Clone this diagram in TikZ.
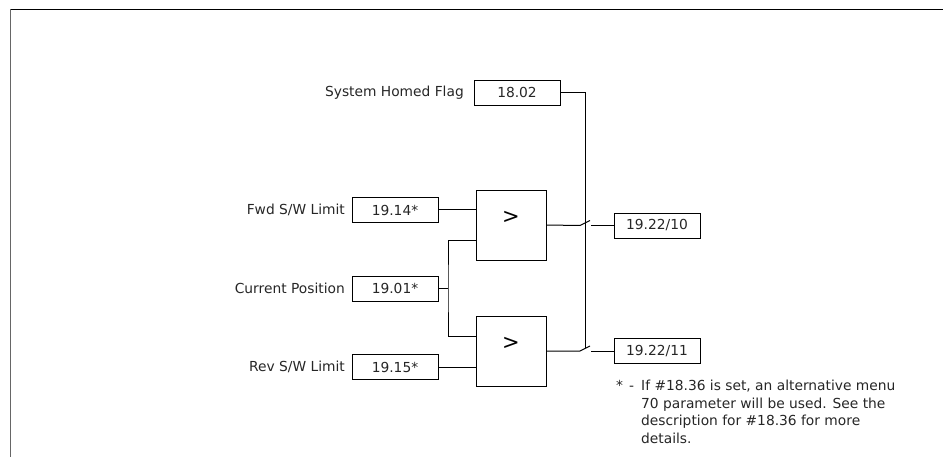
\documentclass[tikz,border=0pt]{standalone}
\usepackage{fontspec}
\setmainfont{DejaVu Sans}
\usepackage{xcolor}
\usetikzlibrary{positioning,calc}

\begin{document}
\begin{tikzpicture}[
  x=1pt, y=-1pt,
  txt/.style={font=\fontsize{13.8}{17.5}\selectfont, text=black!85},
  box/.style={draw, txt, minimum width=86pt, minimum height=25pt, inner sep=0pt},
  lbl/.style={txt, anchor=east, inner sep=0pt},
  gate/.style={draw, minimum width=70pt, minimum height=70pt, inner sep=0pt,
    font=\fontsize{21}{21}\selectfont, text depth=16pt},
  wire/.style={line width=1pt},
  note/.style={txt, align=left, anchor=north west, inner sep=0pt}
]
\useasboundingbox (0,0) rectangle (943,457);
% frame
\draw[line width=1.5pt] (943,9.5) -- (10.5,9.5);
\draw[line width=1.8pt, black!60] (10.5,9.5) -- (10.5,457);

% homed flag
\node[box] (flag) at (517,92.5) {18.02};
\node[lbl] (flagtxt) at (464,92.5) {System Homed Flag};

% inputs
\foreach \n/\y/\v/\t in {fwd/210/19.14*/{Fwd S/W Limit}, pos/288.5/19.01*/{Current Position}, rev/367/19.15*/{Rev S/W Limit}} {
  \node[box] (\n) at (395,\y) {\v};
  \node[lbl] (\n txt) at (345,\y) {\t};
}

% comparators
\node[gate] (cmpf) at (511,225) {>};
\node[gate] (cmpr) at (511,351) {>};
\coordinate (inf1) at ([yshift=15pt]cmpf.west);
\coordinate (inf2) at ([yshift=-16pt]cmpf.west);
\coordinate (inr1) at ([yshift=15pt]cmpr.west);
\coordinate (inr2) at ([yshift=-16pt]cmpr.west);
\coordinate (posj) at (448,288.5);

% outputs
\node[box] (outf) at (657,225.5) {19.22/10};
\node[box] (outr) at (657,351) {19.22/11};
\coordinate (swf) at (580,225.5);
\coordinate (swr) at (580,351);
\coordinate (busend) at (585,348);

\draw[wire] (fwd.east) -- (inf1);
\draw[wire] (rev.east) -- (inr2);
\draw[wire] (pos.east) -- (posj);
\draw[wire] (inf2) -| (posj) |- (inr1);

\draw[wire] (cmpf.east) -- (swf) -- ++(10,-5);
\draw[wire] ([xshift=11pt]swf) -- (outf.west);
\draw[wire] (cmpr.east) -- (swr) -- ++(10,-5);
\draw[wire] ([xshift=11pt]swr) -- (outr.west);
\draw[wire] (flag.east) -| (busend);

% footnote
\node[note] (fn) at (616,380) {\makebox[25pt][l]{*\hspace{6pt}-}If \#18.36 is set, an alternative menu\\
  \hspace*{25pt}70 parameter will be used. See the\\
  \hspace*{25pt}description for \#18.36 for more\\
  \hspace*{25pt}details.};
\end{tikzpicture}
\end{document}
